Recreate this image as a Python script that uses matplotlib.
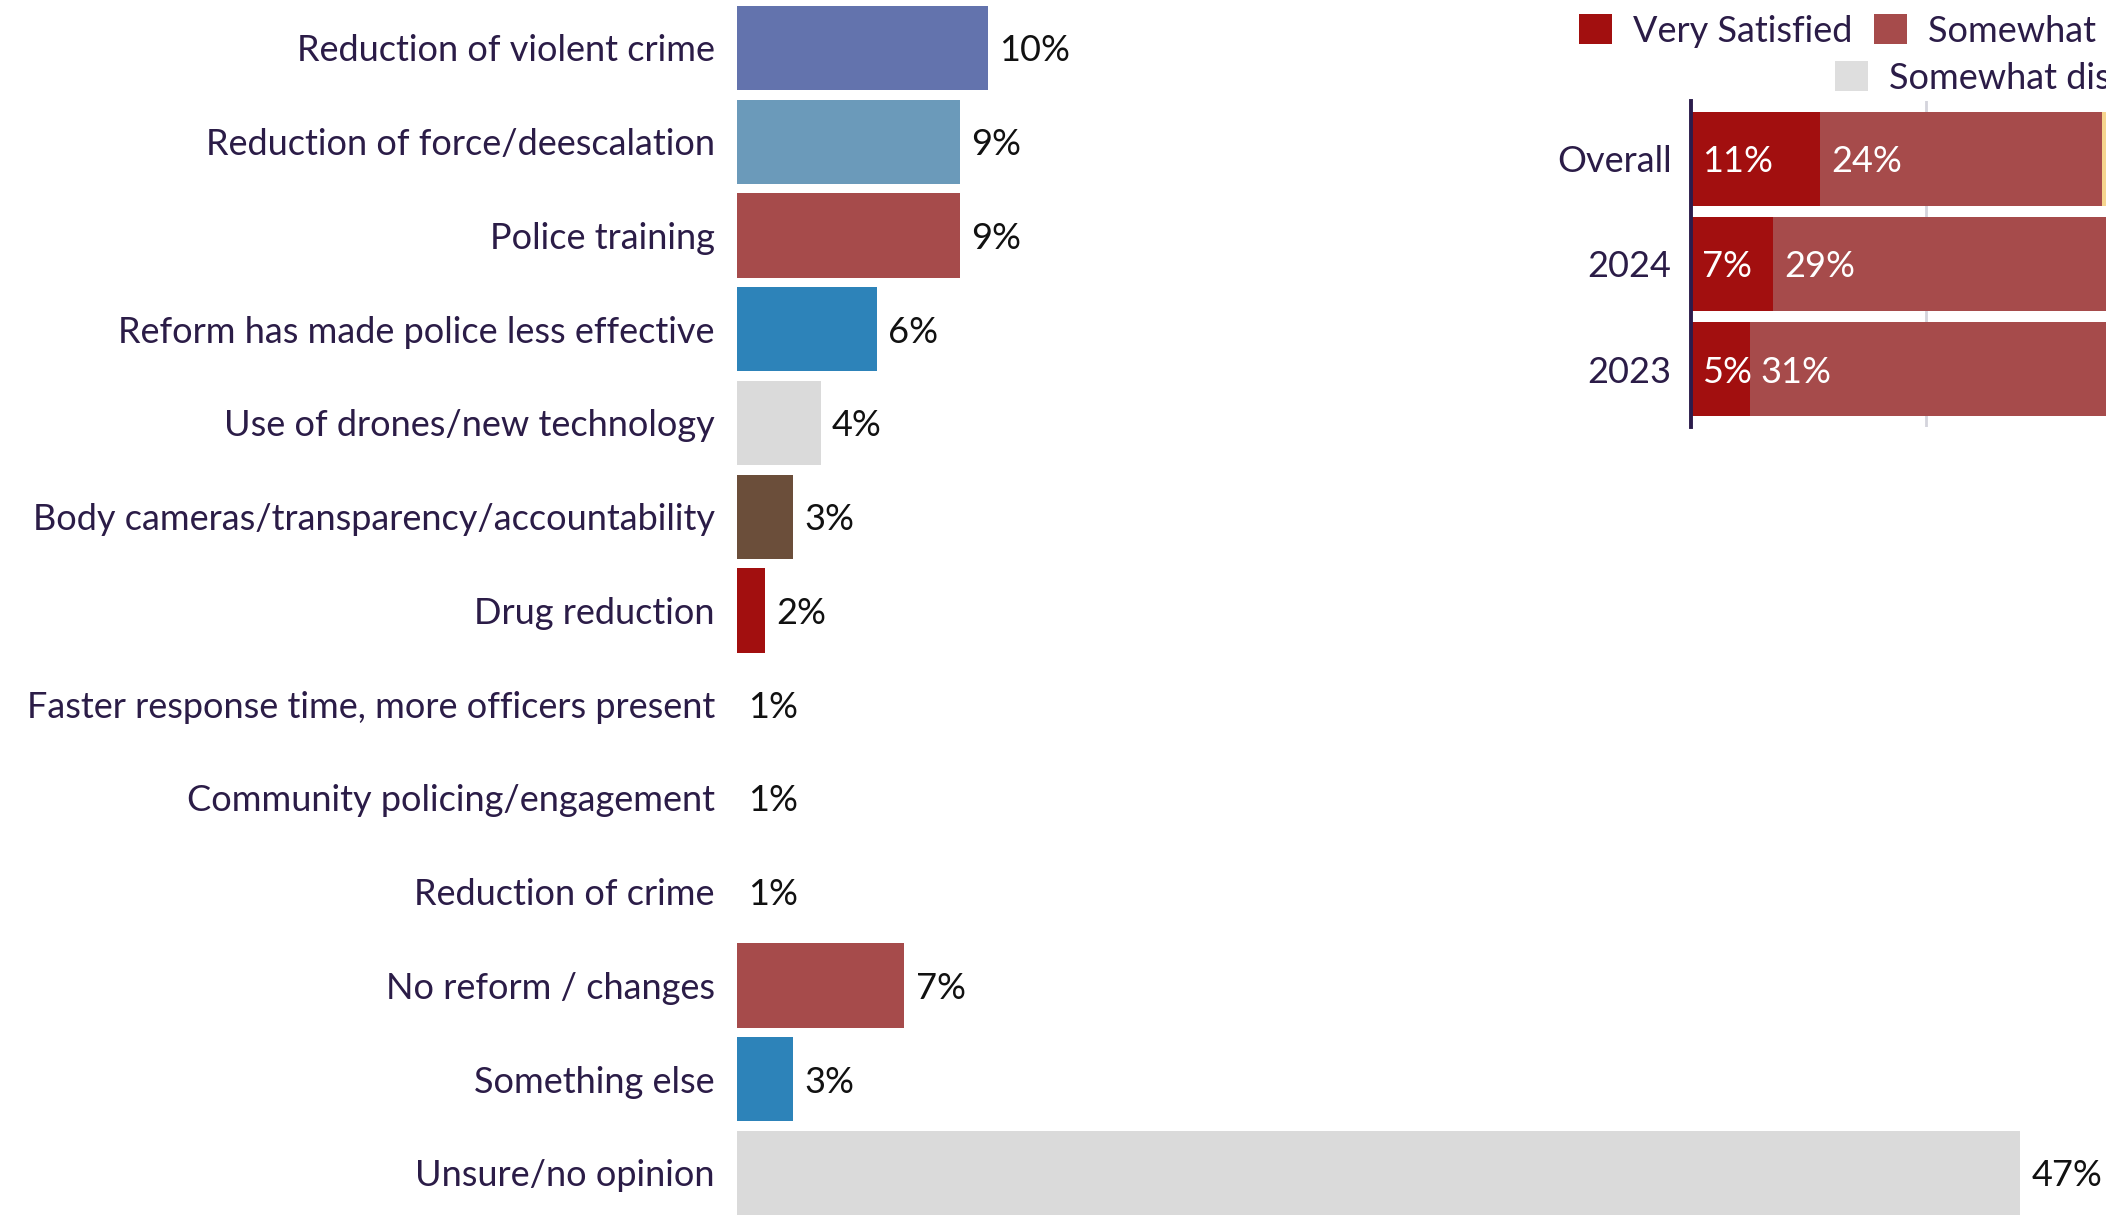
import matplotlib
matplotlib.use("Agg")
import matplotlib.pyplot as plt
from matplotlib.patches import Patch

plt.rcParams['font.family'] = ['Lato', 'DejaVu Sans']

# left chart: reform outcomes
categories = [
    "Reduction of violent crime",
    "Reduction of force/deescalation",
    "Police training",
    "Reform has made police less effective",
    "Use of drones/new technology",
    "Body cameras/transparency/accountability",
    "Drug reduction",
    "Faster response time, more officers present",
    "Community policing/engagement",
    "Reduction of crime",
    "No reform / changes",
    "Something else",
    "Unsure/no opinion",
]
values = [10, 9, 9, 6, 4, 3, 2, 1, 1, 1, 7, 3, 47]
bar_colors = ["#6373ad", "#6b9aba", "#a64b4b", "#2d83b9", "#dadada", "#6b4e3a",
              "#a20f0f", "#a64b4b", "#a64b4b", "#a64b4b", "#a64b4b", "#2d83b9", "#dadada"]

# inset: satisfaction (only left part is visible)
groups = ["Overall", "2024", "2023"]
sat_levels = ["Very Satisfied", "Somewhat Satisfied", "Neutral",
              "Somewhat dissatisfied", "Very dissatisfied"]
very_sat = [11, 7, 5]
somewhat_sat = [24, 29, 31]
neutral = [30, 30, 30]
somewhat_dis = [20, 19, 19]
very_dis = [15, 15, 15]
sat_colors = ["#a20f0f", "#a64b4b", "#f6d58e", "#dedede", "#6b4e3a"]

label_color = "#2b1c47"
fs = 26

fig = plt.figure(figsize=(21.06, 12.16), dpi=100)

ax = fig.add_axes([737 / 2106, 0, (2106 - 737) / 2106, 1])
ypos = list(range(len(categories)))
ax.barh(ypos, [v - 1 for v in values], left=1, height=0.9, color=bar_colors)
for y, v in zip(ypos, values):
    ax.text(v + 0.4, y, f"{v}%", va="center_baseline", ha="left", fontsize=fs, color="#111111")
ax.set_xlim(1, 1 + (2106 - 737) / 27.9)
ax.set_ylim(12.459, -0.512)
ax.set_yticks(ypos)
ax.set_yticklabels(categories, fontsize=fs, color=label_color)
ax.tick_params(axis="y", length=0, pad=16)
ax.set_xticks([])
for s in ax.spines.values():
    s.set_visible(False)

# inset stacked chart (runs past the right edge of the figure)
ax2 = fig.add_axes([1691 / 2106, 1 - 427 / 1216, 1175 / 2106, 326 / 1216])
series = [very_sat, somewhat_sat, neutral, somewhat_dis, very_dis]
left = [0, 0, 0]
gy = list(range(len(groups)))
for k, (name, vals, col) in enumerate(zip(sat_levels, series, sat_colors)):
    ax2.barh(gy, vals, left=left, height=0.9, color=col, zorder=3)
    if k < 2:  # the rest of the labels sit past the figure edge
        for y, l, v in zip(gy, left, vals):
            ax2.text(l + 0.9, y, f"{v}%", va="center_baseline", ha="left", fontsize=fs,
                     color="white", zorder=4)
    left = [a + b for a, b in zip(left, vals)]
ax2.set_xlim(0, 100)
ax2.set_ylim(2.552, -0.552)
ax2.set_xticks([20, 40, 60, 80, 100])
ax2.set_xticklabels([])
ax2.tick_params(axis="x", length=0)
ax2.grid(axis="x", color="#d4d4dc", linewidth=2, zorder=0)
ax2.set_yticks(gy)
ax2.set_yticklabels(groups, fontsize=fs, color=label_color)
ax2.tick_params(axis="y", length=0, pad=14)
for s in ["top", "right", "bottom"]:
    ax2.spines[s].set_visible(False)
ax2.spines["left"].set_color("#2b1c4c")
ax2.spines["left"].set_linewidth(2.8)
ax2.spines["left"].set_zorder(5)

handles = [Patch(facecolor=c, edgecolor="none", label=n) for n, c in zip(sat_levels, sat_colors)]
leg_kw = dict(frameon=False, fontsize=fs, handlelength=0.9, handleheight=0.9,
              handletextpad=0.6, columnspacing=0.6, borderpad=0, borderaxespad=0,
              labelcolor=label_color)
fig.legend(handles=handles[:3], ncol=3, loc="center left",
           bbox_to_anchor=(1579 / 2106, 1 - 31 / 1216), **leg_kw)
fig.legend(handles=handles[3:], ncol=2, loc="center left",
           bbox_to_anchor=(1835 / 2106, 1 - 78 / 1216), **leg_kw)

fig.savefig("out.png", dpi=100)
